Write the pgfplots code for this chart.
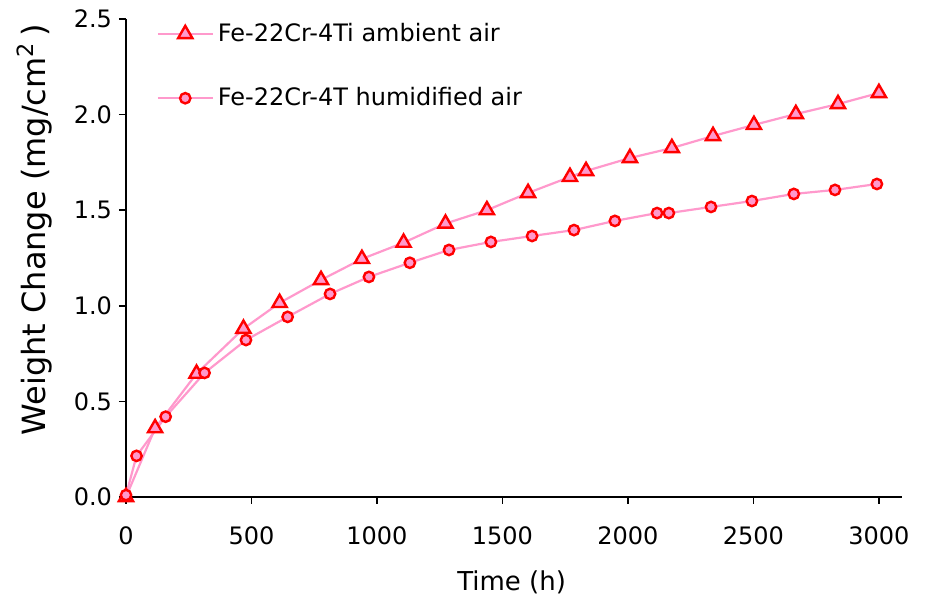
\documentclass[border=0pt]{standalone}
\usepackage{fontspec}
\setmainfont{DejaVu Sans}
\usepackage{pgfplots}
\pgfplotsset{compat=1.18}

\definecolor{pinkline}{RGB}{255,153,204}
\definecolor{markred}{RGB}{255,0,0}

\begin{document}
\begin{tikzpicture}
\path[use as bounding box] (-63pt,-53pt) rectangle (400pt,248.5pt);
\begin{axis}[
    scale only axis,
    width=388pt, height=239pt,
    xmin=0, xmax=3092,
    ymin=0, ymax=2.5,
    axis lines*=left,
    axis line style={line width=0.8pt},
    tick align=outside,
    major tick length=3.5pt,
    tick style={line width=0.8pt, black},
    xtick={0,500,...,3000},
    ytick={0,0.5,...,2.5},
    /pgf/number format/assume math mode=true,
    x tick label style={font=\fontsize{12}{14}\selectfont, yshift=-8pt, /pgf/number format/1000 sep={}},
    y tick label style={font=\fontsize{12}{14}\selectfont, /pgf/number format/.cd, fixed, fixed zerofill, precision=1},
    xlabel={Time (h)},
    ylabel={Weight Change (mg/cm\textsuperscript{2}\,)},
    xlabel style={font=\fontsize{13}{15}\selectfont, at={(axis description cs:0.497,-0.178)}, anchor=center},
    ylabel style={font=\fontsize{16}{19}\selectfont, at={(axis description cs:-0.118,0.559)}, anchor=center},
    clip=false,
    legend style={draw=none, fill=none, at={(axis description cs:0.039,1.0)}, anchor=north west,
        font=\fontsize{12}{14}\selectfont, row sep=17.5pt, inner sep=0pt},
    legend cell align=left,
    legend image code/.code={\draw[mark repeat=2,mark phase=2] plot coordinates {(0pt,0pt) (13.75pt,0pt) (27.5pt,0pt)};},
]
\addplot[color=pinkline, line width=1.1pt, mark=triangle*, mark size=4.1pt,
    mark options={draw=markred, fill=pinkline, line width=1.2pt}] coordinates {
    (0,0) (116,0.36) (281,0.645) (468,0.88) (612,1.015) (777,1.135) (940,1.245)
    (1106,1.33) (1273,1.43) (1438,1.50) (1602,1.59) (1769,1.674) (1833,1.705)
    (2008,1.773) (2175,1.825) (2339,1.888) (2502,1.946) (2669,2.003) (2837,2.055) (3000,2.113)
};
\addlegendentry{Fe-22Cr-4Ti ambient air}
\addplot[color=pinkline, line width=1.1pt, mark=*, mark size=2.6pt,
    mark options={draw=markred, fill=pinkline, line width=1.2pt}] coordinates {
    (0,0.01) (42,0.215) (158,0.42) (313,0.649) (478,0.821) (644,0.942) (813,1.062)
    (968,1.151) (1131,1.225) (1287,1.292) (1454,1.334) (1618,1.365) (1785,1.396)
    (1948,1.444) (2116,1.485) (2163,1.485) (2331,1.517) (2494,1.548) (2661,1.585)
    (2825,1.606) (2992,1.637)
};
\addlegendentry{Fe-22Cr-4T humidified air}
\end{axis}
\end{tikzpicture}
\end{document}
